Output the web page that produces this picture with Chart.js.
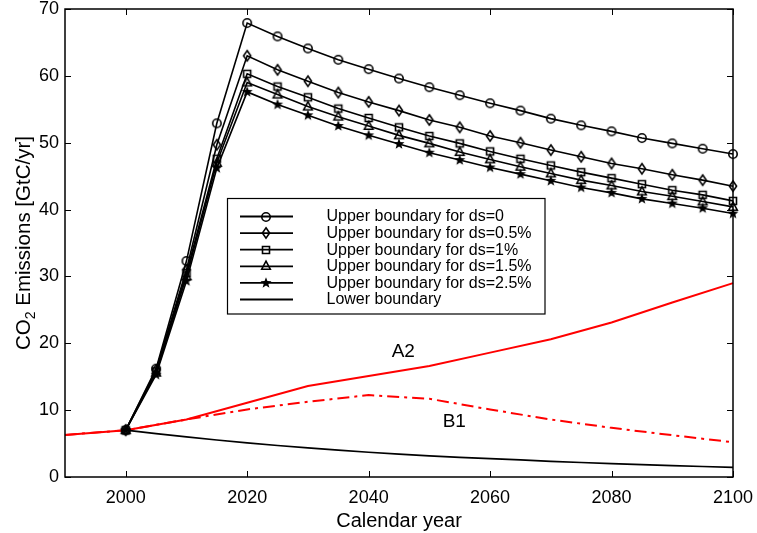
<!DOCTYPE html>
<html><head><meta charset="utf-8">
<script src="https://cdn.jsdelivr.net/npm/chart.js@4.4.0/dist/chart.umd.min.js"></script>
<style>html,body{margin:0;padding:0;background:#fff;}#wrap{width:757px;height:533px;position:relative;}</style>
</head><body>
<div id="wrap"><canvas id="c" width="757" height="533"></canvas></div>
<script>
// ---- data ----
const years5 = [2000,2005,2010,2015,2020,2025,2030,2035,2040,2045,2050,2055,2060,2065,2070,2075,2080,2085,2090,2095,2100];
const upperDs0   = [7.0,16.2,32.3,52.9,67.9,65.9,64.1,62.4,61.0,59.6,58.3,57.1,55.9,54.8,53.6,52.6,51.7,50.7,49.9,49.1,48.3];
const upperDs05  = [7.0,16.0,31.0,49.7,63.0,60.9,59.2,57.5,56.1,54.8,53.4,52.3,51.0,50.0,48.9,47.9,46.9,46.1,45.2,44.4,43.5];
const upperDs1   = [7.0,15.8,30.5,47.6,60.3,58.4,56.8,55.1,53.7,52.3,51.0,49.9,48.7,47.6,46.6,45.6,44.7,43.8,42.9,42.2,41.3];
const upperDs15  = [7.0,15.6,30.0,47.0,59.0,57.2,55.4,53.9,52.5,51.1,49.9,48.6,47.5,46.4,45.4,44.4,43.6,42.7,42.0,41.2,40.4];
const upperDs25  = [7.0,15.3,29.3,46.2,57.6,55.7,54.1,52.5,51.1,49.8,48.5,47.4,46.3,45.3,44.3,43.3,42.5,41.6,40.9,40.2,39.4];
const decadeYears = [2000,2010,2020,2030,2040,2050,2060,2070,2080,2090,2100];
const lowerBoundary = [7.0,6.0,5.1,4.35,3.7,3.15,2.75,2.35,2.0,1.7,1.45];
const scenarioYears = [1990,2000,2010,2020,2030,2040,2050,2060,2070,2080,2090,2100];
const scenarioA2 = [6.3,7.0,8.6,11.1,13.6,15.1,16.6,18.6,20.6,23.1,26.1,29.0];
const scenarioB1 = [6.3,7.0,8.6,10.1,11.25,12.25,11.7,10.1,8.6,7.35,6.25,5.2];
const xTickValues = [2000,2020,2040,2060,2080,2100];
const yTickValues = [0,10,20,30,40,50,60,70];
const legendLabels = ['Upper boundary for ds=0','Upper boundary for ds=0.5%','Upper boundary for ds=1%','Upper boundary for ds=1.5%','Upper boundary for ds=2.5%','Lower boundary'];
const scenarioLabels = [{text:'A2', x:2045.7, y:18.8},{text:'B1', x:2054.1, y:8.2}];

const FONT = "'Liberation Sans', Arial, Helvetica, sans-serif";

// ---- marker images ----
function makeMarker(kind){
  const c = document.createElement('canvas');
  c.width = 16; c.height = 16;
  const g = c.getContext('2d');
  g.translate(8,8);
  g.strokeStyle = '#000'; g.fillStyle = '#000'; g.lineWidth = 1.6;
  g.beginPath();
  if(kind==='circle'){ g.arc(0,0,4.2,0,Math.PI*2); g.stroke(); }
  else if(kind==='diamond'){ g.moveTo(0,-5.2); g.lineTo(3.6,0); g.lineTo(0,5.2); g.lineTo(-3.6,0); g.closePath(); g.stroke(); }
  else if(kind==='square'){ g.rect(-3.5,-3.5,7,7); g.stroke(); }
  else if(kind==='triangle'){ g.moveTo(0,-4.8); g.lineTo(4.3,3.2); g.lineTo(-4.3,3.2); g.closePath(); g.stroke(); }
  else if(kind==='star'){
    for(let i=0;i<10;i++){
      const r = i%2===0 ? 5.8 : 2.4;
      const a = -Math.PI/2 + i*Math.PI/5;
      const px = r*Math.cos(a), py = r*Math.sin(a);
      if(i===0) g.moveTo(px,py); else g.lineTo(px,py);
    }
    g.closePath(); g.fill();
  }
  return c;
}
const markers = ['circle','diamond','square','triangle','star'].map(makeMarker);

function pts(xs, ys){ return xs.map((x,i)=>({x:x, y:ys[i]})); }

const upperSeries = [upperDs0, upperDs05, upperDs1, upperDs15, upperDs25];
const datasets = [];
upperSeries.forEach((s,i)=>{
  datasets.push({label:legendLabels[i], data:pts(years5,s), borderColor:'#000', borderWidth:1.6,
    pointStyle:markers[i], pointRadius:5, pointHoverRadius:5, fill:false, tension:0, clip:false});
});
datasets.push({label:legendLabels[5], data:pts(decadeYears,lowerBoundary), borderColor:'#000', borderWidth:1.7, pointRadius:0, tension:0.3, fill:false, clip:false});
datasets.push({label:'A2', data:pts(scenarioYears,scenarioA2), borderColor:'#ff0000', borderWidth:2, pointRadius:0, tension:0, fill:false, clip:false});
datasets.push({label:'B1', data:pts(scenarioYears,scenarioB1), borderColor:'#ff0000', borderWidth:2, borderDash:[12,5,3,5], pointRadius:0, tension:0, fill:false, clip:false});

const decorPlugin = {
  id:'decor',
  afterDatasetsDraw(chart){
    const ctx = chart.ctx, a = chart.chartArea, xs = chart.scales.x, ys = chart.scales.y;
    ctx.save();
    // box
    ctx.strokeStyle = '#000'; ctx.lineWidth = 1.5;
    ctx.strokeRect(a.left, a.top, a.right-a.left, a.bottom-a.top);
    // inward ticks
    ctx.lineWidth = 1;
    ctx.beginPath();
    xTickValues.forEach(v=>{ const px = Math.round(xs.getPixelForValue(v))+0.5;
      ctx.moveTo(px,a.bottom); ctx.lineTo(px,a.bottom-6); ctx.moveTo(px,a.top); ctx.lineTo(px,a.top+6); });
    yTickValues.forEach(v=>{ const py = Math.round(ys.getPixelForValue(v))+0.5;
      ctx.moveTo(a.left,py); ctx.lineTo(a.left+6,py); ctx.moveTo(a.right,py); ctx.lineTo(a.right-6,py); });
    ctx.stroke();
    // scenario labels
    ctx.fillStyle = '#000'; ctx.font = '19px ' + FONT; ctx.textAlign = 'center'; ctx.textBaseline = 'middle';
    scenarioLabels.forEach(l=>{ ctx.fillText(l.text, xs.getPixelForValue(l.x), ys.getPixelForValue(l.y)); });
    // legend
    const bx = 227.5, by = 198.5, bw = 317.5, bh = 115.5;
    ctx.fillStyle = '#fff'; ctx.fillRect(bx,by,bw,bh);
    ctx.strokeStyle = '#000'; ctx.lineWidth = 1.2; ctx.strokeRect(bx,by,bw,bh);
    ctx.font = '16px ' + FONT; ctx.textAlign = 'left'; ctx.textBaseline = 'middle'; ctx.fillStyle = '#000';
    legendLabels.forEach((lab,i)=>{
      const ry = 216.5 + i*16.6;
      ctx.lineWidth = 1.8; ctx.beginPath(); ctx.moveTo(240,ry); ctx.lineTo(293,ry); ctx.stroke();
      if(i<5){ const m = markers[i]; ctx.drawImage(m, 266-m.width/2, Math.round(ry-m.height/2)); }
      ctx.fillText(lab, 326.5, ry+0.5);
    });
    // axis titles
    ctx.textAlign = 'center'; ctx.textBaseline = 'alphabetic';
    ctx.font = '20px ' + FONT;
    ctx.fillText('Calendar year', (a.left+a.right)/2, 527);
    // y title with subscript
    ctx.translate(29.5, (a.top+a.bottom)/2);
    ctx.rotate(-Math.PI/2);
    const f1 = '20.5px ' + FONT, f2 = '14px ' + FONT;
    ctx.font = f1; const w1 = ctx.measureText('CO').width; const w3 = ctx.measureText(' Emissions [GtC/yr]').width;
    ctx.font = f2; const w2 = ctx.measureText('2').width;
    let sx = -(w1+w2+w3)/2;
    ctx.textAlign = 'left';
    ctx.font = f1; ctx.fillText('CO', sx, 0); sx += w1;
    ctx.font = f2; ctx.fillText('2', sx, 5.5); sx += w2;
    ctx.font = f1; ctx.fillText(' Emissions [GtC/yr]', sx, 0);
    ctx.restore();
  }
};

new Chart(document.getElementById('c'), {
  type:'line',
  data:{datasets:datasets},
  options:{
    responsive:false, animation:false,
    layout:{padding:{top:9, right:24, left:0, bottom:0}},
    plugins:{legend:{display:false}, tooltip:{enabled:false}},
    scales:{
      x:{type:'linear', min:1990, max:2100,
        afterBuildTicks:s=>{ s.ticks = xTickValues.map(v=>({value:v})); },
        afterFit:s=>{ s.height = 56; s.paddingLeft = 0; s.paddingRight = 0; },
        grid:{display:false, drawTicks:false}, border:{display:false},
        ticks:{font:{family:FONT, size:18}, color:'#000', padding:10, maxRotation:0, autoSkip:false,
          callback:v=>String(v)}},
      y:{type:'linear', min:0, max:70,
        afterBuildTicks:s=>{ s.ticks = yTickValues.map(v=>({value:v})); },
        afterFit:s=>{ s.width = 65; s.paddingTop = 0; s.paddingBottom = 0; },
        grid:{display:false, drawTicks:false}, border:{display:false},
        ticks:{font:{family:FONT, size:18}, color:'#000', padding:6, callback:v=>String(v)}}
    }
  },
  plugins:[decorPlugin]
});
</script>
</body></html>
